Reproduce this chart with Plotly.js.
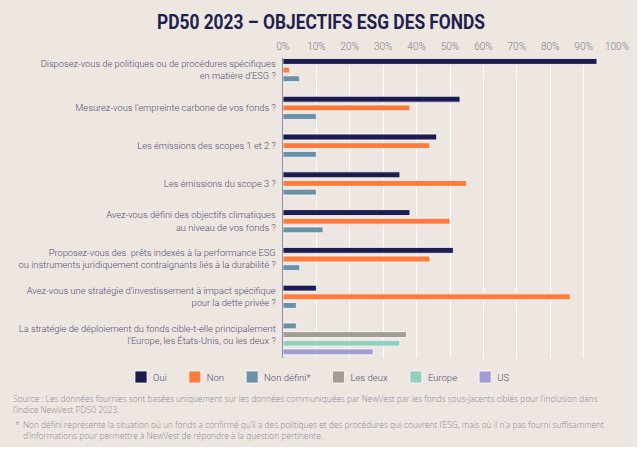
<!DOCTYPE html>
<html>
<head>
<meta charset="utf-8">
<script src="https://cdn.plot.ly/plotly-3.0.1.min.js"></script>
<style>
  html, body { margin: 0; padding: 0; background: #ffffff; }
  #chart { width: 637px; height: 447px; }
</style>
</head>
<body>
<div id="chart"></div>
<script>
// Questions asked to the funds (one group of bars per question)
const questions = [
  "Disposez-vous de politiques ou de procédures spécifiques<br>en matière d’ESG ?",
  "Mesurez-vous l’empreinte carbone de vos fonds ?",
  "Les émissions des scopes 1 et 2 ?",
  "Les émissions du scope 3 ?",
  "Avez-vous défini des objectifs climatiques<br>au niveau de vos fonds ?",
  "Proposez-vous des  prêts indexés à la performance ESG<br>ou instruments juridiquement contraignants liés à la durabilité ?",
  "Avez-vous une stratégie d’investissement à impact spécifique<br>pour la dette privée ?",
  "La stratégie de déploiement du fonds cible-t-elle principalement<br>l’Europe, les États-Unis, ou les deux ?"
];

// Share of funds per answer, in %
const oui       = [94, 53, 46, 35, 38, 51, 10, null];
const non       = [2, 38, 44, 55, 50, 44, 86, null];
const nonDefini = [5, 10, 10, 10, 12, 5, 4, 4];
const lesDeux   = [null, null, null, null, null, null, null, 37];
const europe    = [null, null, null, null, null, null, null, 35];
const us        = [null, null, null, null, null, null, null, 27];

const xTicks = [0, 10, 20, 30, 40, 50, 60, 70, 80, 90, 100];

// Bar slots inside a question group (category units, axis reversed)
const BAR_W = 0.155;
const STEP = 0.229;
const slot = k => (k - 1) * STEP - BAR_W / 2;   // k = 0..3

const outline = { color: 'rgba(255,255,255,0.75)', width: 1 };
function barTrace(name, values, color, offset) {
  return {
    type: 'bar', orientation: 'h', name: name,
    y: questions, x: values,
    width: BAR_W, offset: offset,
    marker: { color: color, line: outline },
    hoverinfo: 'x+name'
  };
}

// the "Non défini" bar sits in the first slot for the last question
const ndOffsets = nonDefini.map((v, i) => i === questions.length - 1 ? slot(0) : slot(2));

const traces = [
  barTrace('Oui', oui, '#1c1c50', slot(0)),
  barTrace('Non', non, '#ff7a3d', slot(1)),
  barTrace('Non défini*', nonDefini, '#6a91a6', ndOffsets),
  barTrace('Les deux', lesDeux, '#a29d97', slot(1)),
  barTrace('Europe', europe, '#93cfbd', slot(2)),
  barTrace('US', us, '#a09dd4', slot(3))
];

const W = 637, H = 447;
const M = { l: 283, r: 20, t: 58, b: 89 };
const px2x = p => (p - M.l) / (W - M.l - M.r);
const px2y = p => (H - M.b - p) / (H - M.t - M.b);

const textColor = '#4f4f70';
const noteColor = '#8a8a98';
const noteFont = { family: 'Open Sans, Roboto, sans-serif', size: 8.4, color: noteColor, weight: 300 };

const layout = {
  width: W, height: H,
  margin: M,
  paper_bgcolor: '#eee6e0',
  plot_bgcolor: '#eee6e0',
  barmode: 'overlay',
  showlegend: true,
  title: {
    text: 'PD50 2023 – OBJECTIFS ESG DES FONDS',
    font: { family: 'Roboto, sans-serif', size: 20, color: '#1e1f4e', weight: 'bold' },
    x: 321 / W, xanchor: 'center', xref: 'container',
    y: 1 - 22 / H, yanchor: 'middle', yref: 'container'
  },
  xaxis: {
    side: 'top',
    range: [0, 100],
    tickvals: xTicks,
    ticktext: xTicks.map(v => v + '%'),
    showgrid: true, gridcolor: '#ffffff', gridwidth: 1,
    zeroline: false, showline: false, ticks: '',
    ticklabelstandoff: 5,
    tickfont: { family: 'Roboto, sans-serif', size: 10, color: '#7d7d8c', weight: 300 },
    fixedrange: true
  },
  yaxis: {
    type: 'category',
    range: [7.62, -0.32],
    showgrid: false, zeroline: false,
    showline: true, linecolor: '#8d8ca6', linewidth: 1.5,
    ticks: '', ticklabelstandoff: 4,
    tickfont: { family: 'Roboto, sans-serif', size: 9.3, color: textColor, weight: 300 },
    fixedrange: true
  },
  legend: {
    orientation: 'h',
    xref: 'paper', yref: 'paper',
    x: px2x(121), xanchor: 'left',
    y: px2y(377), yanchor: 'middle',
    font: { family: 'Roboto, sans-serif', size: 9.5, color: textColor, weight: 300 },
    bgcolor: 'rgba(0,0,0,0)',
    traceorder: 'normal'
  },
  annotations: [
    {
      xref: 'paper', yref: 'paper',
      x: px2x(11), y: px2y(391), xanchor: 'left', yanchor: 'top', align: 'left',
      showarrow: false,
      text: 'Source : Les données fournies sont basées uniquement sur les données communiquées par NewVest par les fonds sous-jacents ciblés pour l’inclusion dans<br>l’indice NewVest PD50 2023.',
      font: noteFont
    },
    {
      xref: 'paper', yref: 'paper',
      x: px2x(13), y: px2y(417), xanchor: 'left', yanchor: 'top', align: 'left',
      showarrow: false,
      text: '*',
      font: noteFont
    },
    {
      xref: 'paper', yref: 'paper',
      x: px2x(21), y: px2y(417), xanchor: 'left', yanchor: 'top', align: 'left',
      showarrow: false,
      text: 'Non défini représente la situation où un fonds a confirmé qu’il a des politiques et des procédures qui couvrent l’ESG, mais où il n’a pas fourni suffisamment<br>d’informations pour permettre à NewVest de répondre à la question pertinente.',
      font: noteFont
    }
  ]
};

// Tighter legend: label closer to its swatch, fixed gap between entries
const LABEL_X = 32;
const ENTRY_GAP = 8;

Plotly.newPlot('chart', traces, layout, { displayModeBar: false, staticPlot: true }).then(gd => {
  // condensed look for the heading: squeeze the bold title to its set width
  const t = gd.querySelector('.gtitle');
  if (t) {
    t.setAttribute('textLength', 328);
    t.setAttribute('lengthAdjust', 'spacingAndGlyphs');
  }

  const items = Array.from(gd.querySelectorAll('.legend .traces'));
  let x = null;
  items.forEach(g => {
    const m = /translate\(\s*([-\d.]+)[ ,]+([-\d.]+)\s*\)/.exec(g.getAttribute('transform') || '');
    if (!m) return;
    if (x === null) x = parseFloat(m[1]);
    g.setAttribute('transform', 'translate(' + x + ',' + m[2] + ')');
    const label = g.querySelector('.legendtext');
    let w = 0;
    if (label) {
      label.setAttribute('x', LABEL_X);
      label.querySelectorAll('tspan').forEach(s => { if (s.hasAttribute('x')) s.setAttribute('x', LABEL_X); });
      w = label.getBBox().width;
    }
    x += LABEL_X + w + ENTRY_GAP;
  });
});
</script>
</body>
</html>
